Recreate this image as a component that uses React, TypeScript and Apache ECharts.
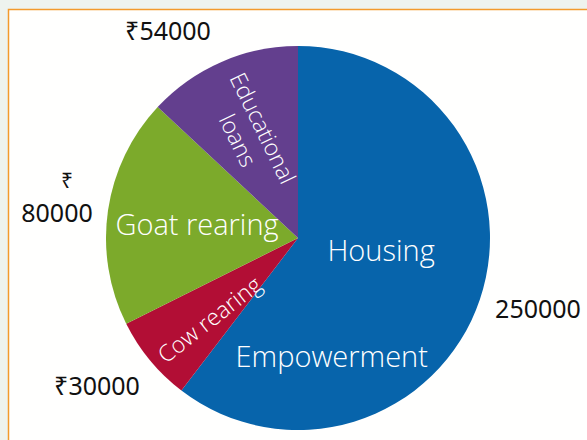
import React, { useEffect, useRef } from "react";
import * as echarts from "echarts";

const categories = ["Housing Empowerment", "Cow rearing", "Goat rearing", "Educational loans"];
const values = [250000, 30000, 80000, 54000];
const currencyPrefix = ["", "₹", "{c|₹}\n", "₹"];
const innerLabels = [
  "{h|Housing}\n{g| }\n{e|Empowerment}",
  "Cow rearing",
  "Goat rearing",
  "Educational\nloans",
];
const colors = ["#0764ab", "#b20e35", "#7caa2b", "#633f8e"];

// label placement (layout only)
const innerPos = [
  { x: 235.5, y: 233, rotate: 0, align: "left", verticalAlign: "top" },
  { x: 209, y: 319, rotate: 38, align: "center", verticalAlign: "middle" },
  { x: 197, y: 223, rotate: 0, align: "center", verticalAlign: "middle" },
  { x: 251, y: 134, rotate: -64, align: "center", verticalAlign: "middle" },
];
const outerPos = [
  { x: 538, y: 308 },
  { x: 97, y: 385 },
  { x: 57, y: 196 },
  { x: 168, y: 30 },
];

export default function App() {
  const ref = useRef<HTMLDivElement>(null);
  useEffect(() => {
    if (!ref.current) return;
    const chart = echarts.init(ref.current, null, { renderer: "svg" });
    const data = categories.map((name, i) => ({
      name,
      value: values[i],
      itemStyle: { color: colors[i] },
    }));
    chart.setOption({
      animation: false,
      backgroundColor: "#eef3ee",
      graphic: [
        {
          type: "rect",
          z: -10,
          shape: { x: 8.5, y: 9.5, width: 620, height: 460 },
          style: { fill: "#fffffe", stroke: "#f39a2c", lineWidth: 1.5 },
          silent: true,
        },
      ],
      series: [
        {
          type: "pie",
          center: [298, 238],
          radius: 192,
          startAngle: 90,
          clockwise: true,
          avoidLabelOverlap: false,
          silent: true,
          data,
          label: {
            show: true,
            position: "inside",
            color: "#ffffff",
            fontFamily: "Open Sans",
            fontWeight: 300,
            fontSize: 23,
            lineHeight: 28,
            formatter: (p: any) => innerLabels[p.dataIndex],
            rich: {
              h: { fontFamily: "Open Sans", fontWeight: 300, fontSize: 29, lineHeight: 32, color: "#fff", padding: [0, 0, 0, 92] },
              g: { fontSize: 10, lineHeight: 74 },
              e: { fontFamily: "Open Sans", fontWeight: 300, fontSize: 29, lineHeight: 32, color: "#fff" },
            },
          },
          labelLine: { show: false },
          labelLayout: (p: any) => {
            const pos = innerPos[p.dataIndex];
            const extra: any = p.dataIndex === 2 ? { fontSize: 29 } : {};
            return { ...pos, ...extra };
          },
        },
        {
          type: "pie",
          center: [298, 238],
          radius: 192,
          startAngle: 90,
          clockwise: true,
          avoidLabelOverlap: false,
          silent: true,
          data: categories.map((name, i) => ({ name, value: values[i] })),
          itemStyle: { color: "rgba(0,0,0,0)" },
          label: {
            show: true,
            position: "outside",
            color: "#111111",
            fontFamily: "Noto Sans",
            fontSize: 25,
            lineHeight: 32,
            formatter: (p: any) => currencyPrefix[p.dataIndex] + String(values[p.dataIndex]),
            rich: {
              c: { fontFamily: "Noto Sans", fontSize: 21, lineHeight: 32, color: "#111111", padding: [0, 0, 0, 20] },
            },
          },
          labelLine: { show: false },
          labelLayout: (p: any) => ({
            x: outerPos[p.dataIndex].x,
            y: outerPos[p.dataIndex].y,
            align: "center",
            verticalAlign: "middle",
          }),
        },
      ],
    });
    return () => chart.dispose();
  }, []);
  return (
    <div
      ref={ref}
      style={{ position: "fixed", left: 0, top: 0, width: 587, height: 440 }}
    />
  );
}
